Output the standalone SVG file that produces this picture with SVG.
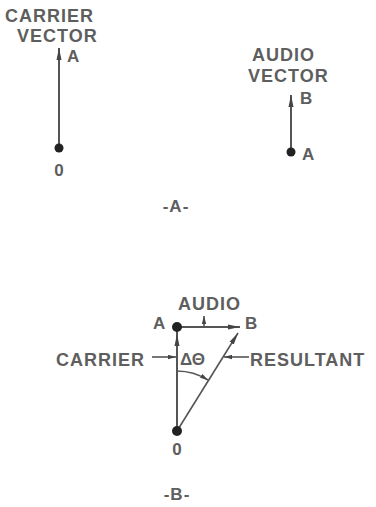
<svg xmlns="http://www.w3.org/2000/svg" width="376" height="507" viewBox="0 0 376 507">
<defs>
<style>
.t{font-family:"Liberation Sans",Arial,sans-serif;font-weight:bold;fill:#5e5e5e}
.big{font-size:18px;letter-spacing:1px}
.lbl{font-size:17px}
.ln{stroke:#555;stroke-width:2;fill:none}
.thin{stroke:#555;stroke-width:1.6;fill:none}
.dot{fill:#222}
</style>
<marker id="ah" markerUnits="userSpaceOnUse" markerWidth="12" markerHeight="6" refX="12" refY="3" orient="auto">
<path d="M0,0.5 L12,3 L0,5.5 z" fill="#444"/>
</marker>
<marker id="ahs" markerUnits="userSpaceOnUse" markerWidth="8" markerHeight="5" refX="8" refY="2.5" orient="auto">
<path d="M0,0.3 L8,2.5 L0,4.7 z" fill="#444"/>
</marker>
</defs>
<rect width="376" height="507" fill="#fff"/>

<g id="connectors">
<line class="ln" x1="59" y1="148" x2="59" y2="48" marker-end="url(#ah)"/>
<line class="ln" x1="291" y1="152" x2="291" y2="95" marker-end="url(#ah)"/>
<line class="ln" x1="177" y1="431" x2="177" y2="334" marker-end="url(#ah)"/>
<line class="ln" x1="177" y1="334" x2="177" y2="327"/>
<line class="ln" x1="177" y1="327" x2="240" y2="327" marker-end="url(#ah)"/>
<line class="thin" x1="177" y1="431" x2="238" y2="333" marker-end="url(#ah)"/>
<line class="thin" x1="204" y1="327" x2="204" y2="316" marker-end="url(#ahs)"/>
<path class="thin" d="M177,371 A60,60 0 0 1 208,380" marker-end="url(#ahs)"/>
<line class="thin" x1="152" y1="357" x2="176" y2="357" marker-end="url(#ahs)"/>
<line class="thin" x1="249" y1="357" x2="224" y2="357" marker-end="url(#ahs)"/>
</g>

<g id="carrier-vector">
<text class="t big" x="5" y="22">CARRIER</text>
<text class="t big" x="17" y="42">VECTOR</text>
<text class="t lbl" x="67" y="62">A</text>
<circle class="dot" cx="59" cy="148" r="4.5"/>
<text class="t lbl" x="59" y="176" text-anchor="middle">0</text>
</g>

<g id="audio-vector">
<text class="t big" x="252" y="61">AUDIO</text>
<text class="t big" x="248" y="82">VECTOR</text>
<text class="t lbl" x="300" y="104">B</text>
<circle class="dot" cx="291" cy="152" r="4.5"/>
<text class="t lbl" x="302" y="160">A</text>
</g>

<g id="caption-a">
<text class="t lbl" x="176" y="212" text-anchor="middle" letter-spacing="1">-A-</text>
</g>

<g id="point-A">
<circle class="dot" cx="177" cy="327" r="5"/>
<text class="t lbl" x="153" y="329">A</text>
</g>
<g id="point-B">
<text class="t lbl" x="245" y="329">B</text>
</g>
<g id="point-O">
<circle class="dot" cx="177" cy="431" r="5"/>
<text class="t lbl" x="177" y="455" text-anchor="middle">0</text>
</g>
<g id="label-audio">
<text class="t big" x="178" y="310">AUDIO</text>
</g>
<g id="label-carrier">
<text class="t big" x="56" y="366">CARRIER</text>
</g>
<g id="label-resultant">
<text class="t big" x="250" y="366">RESULTANT</text>
</g>
<g id="label-angle">
<text class="t lbl" x="180" y="365">ΔΘ</text>
</g>
<g id="caption-b">
<text class="t lbl" x="177" y="500" text-anchor="middle" letter-spacing="1">-B-</text>
</g>
</svg>
